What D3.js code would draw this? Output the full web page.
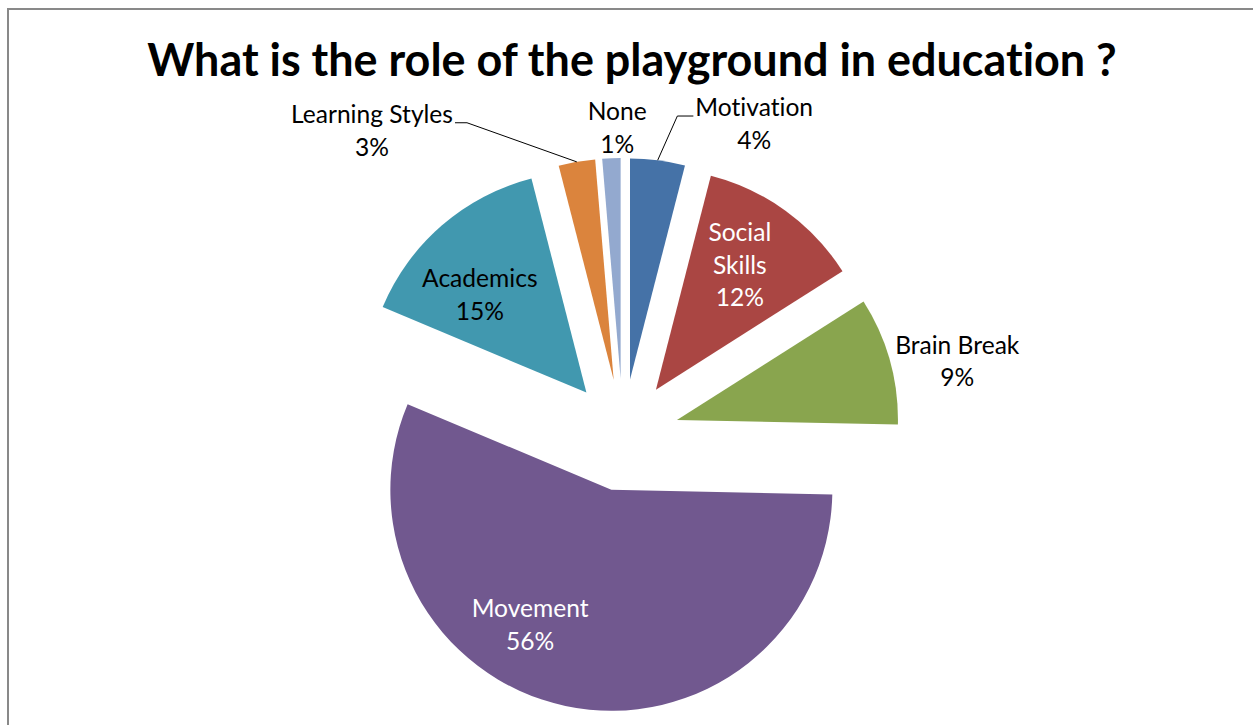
<html>
<head>
  <title>Playground pie</title>
  <script src="https://d3js.org/d3.v7.min.js"></script>
  <style>
    body { margin: 0; background: #fff; }
    text { font-family: Lato, "Open Sans", sans-serif; font-variant-ligatures: none; font-feature-settings: "liga" 0, "clig" 0; }
  </style>
</head>
<body>
<script>
// data (clockwise from 12 o'clock)
var categories = ["Motivation", "Social Skills", "Brain Break", "Movement", "Academics", "Learning Styles", "None"];
var counts     = [3, 9, 7, 42, 11, 2, 1];
var colors     = ["#4572A7", "#AA4643", "#89A54E", "#71588F", "#4198AF", "#DB843D", "#93A9CF"];
var titleText  = "What is the role of the playground in education ?";

// layout
var width = 1253, height = 725;
var cx = 623, cy = 435, radius = 221, explode = 56;
var lineH = 32.5;
// label anchor: [angle deg from top, distance from pie centre], inside or outside
var labelPolar = {
  "Motivation":      [23.1, 337, "out"],
  "Social Skills":   [34.9, 206, "in"],
  "Brain Break":     [77.8, 343, "out"],
  "Movement":        [205.7, 212, "in"],
  "Academics":       [314.4, 199, "in"],
  "Learning Styles": [320.5, 393, "out"],
  "None":            [359.1, 306, "out"]
};
var labelLines = { "Social Skills": ["Social", "Skills"] };
var labelFill  = { "Social Skills": "#fff", "Movement": "#fff" };
var leaders    = { "Motivation": "left", "Learning Styles": "right" };

var svg = d3.select("body").append("svg")
  .attr("width", width).attr("height", height);

// chart frame
svg.append("rect")
  .attr("x", 8).attr("y", 9)
  .attr("width", width + 40).attr("height", height + 40)
  .attr("fill", "none").attr("stroke", "#898989").attr("stroke-width", 2);

// title, fitted to the width it has in the picture
var title = svg.append("text")
  .attr("x", 632).attr("y", 76)
  .attr("text-anchor", "middle")
  .attr("font-weight", "bold")
  .attr("font-size", 48)
  .attr("fill", "#000")
  .text(titleText);
var tw = title.node().getComputedTextLength();
title.attr("font-size", 48 * 970 / tw);

// label font size fitted on one reference label
var probe = svg.append("text").attr("font-size", 26).text("Learning Styles");
var labelSize = 26 * 162 / probe.node().getComputedTextLength();
probe.remove();

var total = d3.sum(counts);
var pct = d3.format(".0%");
var rows = categories.map(function (c, i) { return { name: c, value: counts[i], color: colors[i] }; });

var pie = d3.pie().sort(null).value(function (d) { return d.value; });
var arc = d3.arc().innerRadius(0).outerRadius(radius);
var arcs = pie(rows);

function dir(a) { return [Math.sin(a), -Math.cos(a)]; }

var g = svg.append("g").attr("transform", "translate(" + cx + "," + cy + ")");

g.selectAll("path.slice")
  .data(arcs)
  .enter()
  .append("path")
  .attr("class", "slice")
  .attr("d", arc)
  .attr("fill", function (d) { return d.data.color; })
  .attr("transform", function (d) {
    var m = dir((d.startAngle + d.endAngle) / 2);
    return "translate(" + (m[0] * explode) + "," + (m[1] * explode) + ")";
  });

// labels
var labels = g.selectAll("g.label")
  .data(arcs)
  .enter()
  .append("g")
  .attr("class", "label")
  .each(function (d) {
    var p = labelPolar[d.data.name];
    var a = p[0] * Math.PI / 180;
    var x = Math.sin(a) * p[1] - (cx - 622), y = -Math.cos(a) * p[1] - (cy - 434);
    var lines = (labelLines[d.data.name] || [d.data.name]).concat([pct(d.data.value / total)]);
    var t = d3.select(this).append("text")
      .attr("text-anchor", "middle")
      .attr("font-size", labelSize)
      .attr("fill", labelFill[d.data.name] || "#000");
    var y0 = y - (lines.length - 1) * lineH / 2;
    lines.forEach(function (s, k) {
      t.append("tspan").attr("x", x).attr("y", y0 + k * lineH).attr("dy", "0.35em").text(s);
    });
    d.lx = x; d.ly = y; d.tw = t.node().getBBox().width;
  });

// leader lines
arcs.forEach(function (d) {
  var side = leaders[d.data.name];
  if (!side) return;
  var m = dir((d.startAngle + d.endAngle) / 2);
  var ex = m[0] * (radius + explode), ey = m[1] * (radius + explode);
  var sy = d.ly - 8;
  var sx = side === "right" ? d.lx + d.tw / 2 + 2 : d.lx - d.tw / 2 - 2;
  var kx = side === "right" ? sx + 12 : sx - 16;
  g.append("path")
    .attr("d", "M" + sx + "," + sy + "L" + kx + "," + sy + "L" + ex + "," + ey)
    .attr("fill", "none")
    .attr("stroke", "#000")
    .attr("stroke-width", 1);
});
</script>
</body>
</html>
